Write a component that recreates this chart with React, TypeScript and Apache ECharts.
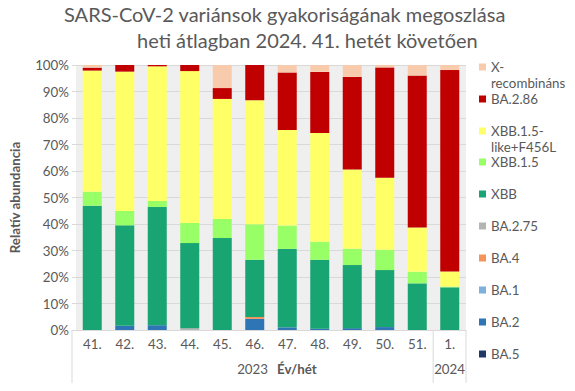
import React, { useEffect, useRef } from "react";
import * as echarts from "echarts";

const weeks = ["41.", "42.", "43.", "44.", "45.", "46.", "47.", "48.", "49.", "50.", "51.", "1."];
const yearLabels = ["2023", "2024"];
const yTicks = [0, 10, 20, 30, 40, 50, 60, 70, 80, 90, 100];

const BA5 = [0, 0, 0, 0, 0, 0, 0, 0, 0, 0, 0, 0];
const BA2 = [0, 1.6, 1.8, 0, 0, 4.2, 1.0, 0.5, 0.7, 1.1, 0, 0];
const BA1 = [0, 0, 0, 0, 0, 0, 0, 0, 0, 0, 0, 0];
const BA4 = [0, 0, 0, 0, 0, 0.7, 0, 0, 0, 0, 0, 0];
const BA275 = [0, 0, 0, 0.7, 0, 0, 0, 0, 0, 0, 0, 0];
const XBB = [46.9, 37.9, 44.6, 32.1, 34.7, 21.6, 29.6, 26.0, 23.8, 21.5, 17.6, 16.1];
const XBB15 = [5.3, 5.4, 2.3, 7.6, 7.2, 13.4, 8.8, 6.8, 6.2, 7.7, 4.4, 0.3];
const XBB15F = [45.7, 52.6, 50.8, 57.3, 45.3, 46.8, 36.1, 41.0, 29.9, 27.2, 16.7, 5.7];
const BA286 = [1.1, 2.5, 0.5, 2.3, 4.1, 13.3, 21.7, 23.1, 34.9, 41.6, 57.3, 76.0];
const XREC = [1.0, 0, 0, 0, 8.7, 0, 2.8, 2.6, 4.5, 0.9, 4.0, 1.9];

const seriesDefs = [
  { name: "BA.5", data: BA5, color: "#1F3864" },
  { name: "BA.2", data: BA2, color: "#2E75B6" },
  { name: "BA.1", data: BA1, color: "#7EAFDD" },
  { name: "BA.4", data: BA4, color: "#F4945B" },
  { name: "BA.2.75", data: BA275, color: "#B4B4B4" },
  { name: "XBB", data: XBB, color: "#18A473" },
  { name: "XBB.1.5", data: XBB15, color: "#99FF66" },
  { name: "XBB.1.5-like+F456L", data: XBB15F, color: "#FFFF66" },
  { name: "BA.2.86", data: BA286, color: "#C00000" },
  { name: "X-recombináns", data: XREC, color: "#F8CBAD" },
];

// leading blank line keeps the first text line level with the legend icon
const legendLabels: Record<string, string> = {
  "X-recombináns": "\nX-\nrecombináns",
  "XBB.1.5-like+F456L": "\nXBB.1.5-\nlike+F456L",
};

const FONT = "Lato, 'Open Sans', sans-serif";
const TXT = "#595959";

export default function App() {
  const ref = useRef<HTMLDivElement>(null);
  useEffect(() => {
    if (!ref.current) return;
    const chart = echarts.init(ref.current, null, { renderer: "svg" });
    const W = 575;
    const H = 391;
    const gl = 72, gr = 109, gt = 65, gb = 61;
    const plotW = W - gl - gr;
    const catW = plotW / weeks.length;
    const axisY = H - gb;
    const sepX = gl + (weeks.length - 1) * catW;

    const legendOrder = [...seriesDefs].reverse();
    const iconCenters = [67, 99, 131, 162, 194, 226, 258, 290, 322, 354];
    const legends = legendOrder.map((s, i) => {
      const multi = !!legendLabels[s.name];
      return {
        orient: "vertical",
        left: 479,
        top: iconCenters[i] - (multi ? 24 : 8),
        padding: 0,
        itemWidth: 7,
        itemHeight: 7,
        icon: "rect",
        selectedMode: false,
        formatter: (n: string) => legendLabels[n] || n,
        textStyle: {
          fontFamily: FONT,
          fontSize: 13.33,
          color: TXT,
          lineHeight: 16,
        },
        data: [s.name],
      };
    });

    chart.setOption({
      animation: false,
      title: [
        {
          text: "SARS-CoV-2 variánsok gyakoriságának megoszlása",
          left: 64,
          top: 4,
          padding: 0,
          textStyle: { fontFamily: FONT, fontSize: 20, fontWeight: "normal", color: TXT },
        },
        {
          text: "heti átlagban 2024. 41. hetét követően",
          left: 137,
          top: 30,
          padding: 0,
          textStyle: { fontFamily: FONT, fontSize: 20, fontWeight: "normal", color: TXT },
        },
      ],
      legend: legends,
      grid: {
        left: gl,
        right: gr,
        top: gt,
        bottom: gb,
        show: true,
        backgroundColor: "#efefef",
        borderWidth: 0,
      },
      xAxis: {
        type: "category",
        data: weeks,
        axisTick: { show: false },
        axisLine: { lineStyle: { color: "#d9d9d9" } },
        axisLabel: { fontFamily: FONT, fontSize: 13.33, color: TXT, margin: 7 },
      },
      yAxis: {
        type: "value",
        min: yTicks[0],
        max: yTicks[yTicks.length - 1],
        interval: 10,
        name: "Relatív abundancia",
        nameLocation: "middle",
        nameGap: 55,
        nameTextStyle: { fontFamily: FONT, fontSize: 13.33, fontWeight: "bold", color: TXT },
        axisLine: { show: false },
        axisTick: { show: true, length: 4, lineStyle: { color: "#d9d9d9" } },
        splitLine: { lineStyle: { color: "#d9d9d9", width: 1 } },
        axisLabel: {
          fontFamily: FONT,
          fontSize: 13.33,
          color: TXT,
          margin: 7,
          formatter: (v: number) => v + "%",
        },
      },
      series: seriesDefs.map((s) => ({
        name: s.name,
        type: "bar",
        stack: "total",
        barWidth: 19,
        data: s.data,
        itemStyle: { color: s.color },
      })),
      graphic: [
        { type: "line", shape: { x1: gl, y1: axisY, x2: gl, y2: H - 3 }, style: { stroke: "#d9d9d9", lineWidth: 1 } },
        { type: "line", shape: { x1: sepX, y1: axisY, x2: sepX, y2: H - 3 }, style: { stroke: "#d9d9d9", lineWidth: 1 } },
        { type: "line", shape: { x1: W - gr, y1: axisY, x2: W - gr, y2: H - 3 }, style: { stroke: "#d9d9d9", lineWidth: 1 } },
        { type: "rect", shape: { x: 0, y: H - 3, width: W, height: 3 }, style: { fill: "#e4e4e4" } },
        {
          type: "text",
          x: (gl + sepX) / 2,
          y: 369,
          style: { text: yearLabels[0], fontFamily: FONT, fontSize: 13.33, fill: TXT, align: "center", verticalAlign: "middle" },
        },
        {
          type: "text",
          x: 277,
          y: 369,
          style: { text: "Év/hét", fontFamily: FONT, fontSize: 13.33, fontWeight: "bold", fill: TXT, align: "left", verticalAlign: "middle" },
        },
        {
          type: "text",
          x: (sepX + W - gr) / 2,
          y: 369,
          style: { text: yearLabels[1], fontFamily: FONT, fontSize: 13.33, fill: TXT, align: "center", verticalAlign: "middle" },
        },
      ],
    });
    return () => chart.dispose();
  }, []);
  return <div ref={ref} style={{ width: 575, height: 391, margin: -8 }} />;
}
